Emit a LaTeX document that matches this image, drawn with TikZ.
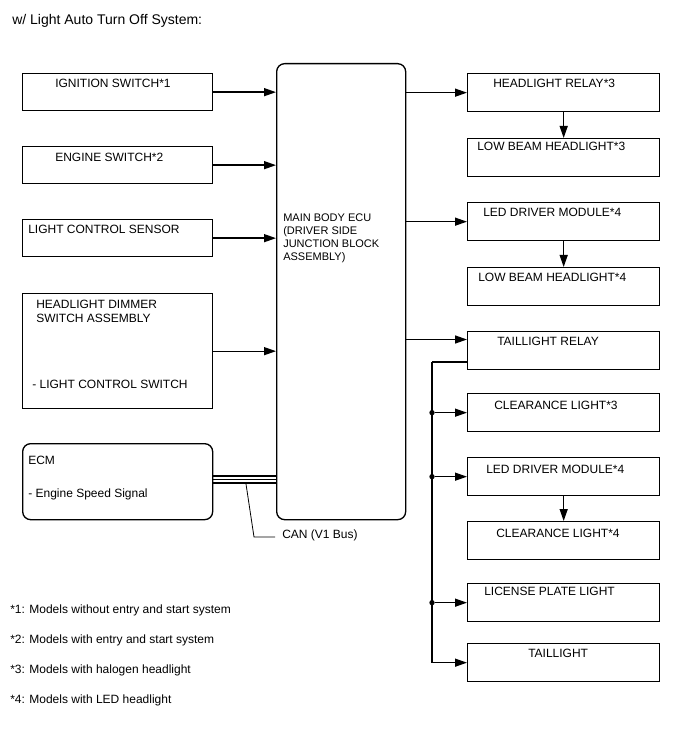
\documentclass[tikz,border=0pt]{standalone}
\usepackage{fontspec}
\setmainfont{Liberation Sans}
\usetikzlibrary{arrows.meta,calc}
\begin{document}
\begin{tikzpicture}[x=0.75pt,y=-0.75pt,
  box/.style={draw,line width=1pt,rectangle,anchor=north west,inner sep=0pt},
  lbox/.style={box,minimum width=190*0.75pt,minimum height=37*0.75pt},
  rbox/.style={box,minimum width=192*0.75pt,minimum height=38*0.75pt},
  txt/.style={anchor=base west,inner sep=0pt,font=\fontsize{9pt}{11pt}\selectfont},
  etxt/.style={anchor=base west,inner sep=0pt,font=\fontsize{8.25pt}{10pt}\selectfont},
  arr/.style={line width=1pt,-{Triangle[length=9pt,width=6pt]}},
  ln/.style={line width=1pt},
  dotnode/.style={circle,fill,inner sep=0pt,minimum size=4pt}]
\useasboundingbox (0,0) rectangle (688,755);

% title
\node[anchor=base west,inner sep=0pt,font=\fontsize{10.5pt}{12pt}\selectfont] (title) at (12,25) {w/ Light Auto Turn Off System:};

% left boxes
\node[lbox] (ign) at (22,73) {};
\node[lbox] (eng) at (22,146) {};
\node[lbox] (lcs) at (22,219) {};
\node[lbox,minimum height=115*0.75pt] (hds) at (22,293) {};
\node[lbox,minimum height=76*0.75pt,rounded corners=6pt] (ecm) at (22,443) {};

\node[txt] (tign) at (55,87.5) {IGNITION SWITCH*1};
\node[txt] (teng) at (55,161.5) {ENGINE SWITCH*2};
\node[txt] (tlcs) at (28,233.5) {LIGHT CONTROL SENSOR};
\node[txt] (thds1) at (36,308.5) {HEADLIGHT DIMMER};
\node[txt] (thds2) at (36,322.5) {SWITCH ASSEMBLY};
\node[txt] (thds3) at (32,388.5) {- LIGHT CONTROL SWITCH};
\node[txt] (tecm1) at (28,464) {ECM};
\node[txt] (tecm2) at (28,497.5) {- Engine Speed Signal};

% ECU
\node[box,minimum width=129*0.75pt,minimum height=456*0.75pt,rounded corners=6pt] (ecu) at (276,63) {};
\node[etxt] (tecu1) at (283,221.5) {MAIN BODY ECU};
\node[etxt] (tecu2) at (283,234.5) {(DRIVER SIDE};
\node[etxt] (tecu3) at (283,247.5) {JUNCTION BLOCK};
\node[etxt] (tecu4) at (283,260.5) {ASSEMBLY)};

% right boxes
\node[rbox] (hr) at (467,73) {};
\node[rbox] (lb3) at (467,138) {};
\node[rbox] (ld1) at (467,202) {};
\node[rbox] (lb4) at (467,267) {};
\node[rbox] (tr) at (467,331) {};
\node[rbox] (cl3) at (467,393) {};
\node[rbox] (ld2) at (467,457) {};
\node[rbox] (cl4) at (467,521) {};
\node[rbox] (lp) at (467,583) {};
\node[rbox] (tl) at (467,643) {};

\node[txt] (thr) at (493,87.5) {HEADLIGHT RELAY*3};
\node[txt] (tlb3) at (477,150.5) {LOW BEAM HEADLIGHT*3};
\node[txt] (tld1) at (483,217) {LED DRIVER MODULE*4};
\node[txt] (tlb4) at (478,281) {LOW BEAM HEADLIGHT*4};
\node[txt] (ttr) at (497,345.5) {TAILLIGHT RELAY};
\node[txt] (tcl3) at (494,409.5) {CLEARANCE LIGHT*3};
\node[txt] (tld2) at (486,473) {LED DRIVER MODULE*4};
\node[txt] (tcl4) at (496,537) {CLEARANCE LIGHT*4};
\node[txt] (tlp) at (484,595.5) {LICENSE PLATE LIGHT};
\node[txt] (ttl) at (528,657.5) {TAILLIGHT};

% left arrows
\draw[arr] (ign.east) -- (ign.east -| ecu.west);
\draw[arr] (eng.east) -- (eng.east -| ecu.west);
\draw[arr] (lcs.east) -- (lcs.east -| ecu.west);
\draw[arr] (hds.east) -- (hds.east -| ecu.west);

% CAN
\draw[line width=1.5pt] (ecm.east |- 0,476) -- (ecu.west |- 0,476);
\draw[line width=1pt] (ecm.east |- 0,479.5) -- (ecu.west |- 0,479.5);
\draw[line width=1.5pt] (ecm.east |- 0,483) -- (ecu.west |- 0,483);
\coordinate (canA) at (246,484);
\coordinate (canB) at (254,537);
\coordinate (canC) at (275,537);
\draw[line width=0.6pt] (canA) -- (canB) -- (canC);
\node[txt] (tcan) at (282,538.5) {CAN (V1 Bus)};

% right arrows
\draw[arr] (ecu.east |- hr.west) -- (hr.west);
\draw[arr] (ecu.east |- ld1.west) -- (ld1.west);
\draw[arr] (ecu.east |- 0,339.5) -- (tr.west |- 0,339.5);
\draw[arr] (hr.south) -- (lb3.north);
\draw[arr] (ld1.south) -- (lb4.north);
\draw[arr] (ld2.south) -- (cl4.north);

% taillight relay bus
\coordinate (bt) at (432,362);
\draw[ln] (tr.west |- bt) -- (bt);
\draw[arr] (bt) |- (tl.west);
\node[dotnode] (d1) at (bt |- cl3.west) {};
\node[dotnode] (d2) at (bt |- ld2.west) {};
\node[dotnode] (d3) at (bt |- lp.west) {};
\draw[arr] (d1) -- (cl3.west);
\draw[arr] (d2) -- (ld2.west);
\draw[arr] (d3) -- (lp.west);

% footnotes
\node[txt] (f1) at (10,613.5) {*1: Models without entry and start system};
\node[txt] (f2) at (10,643.5) {*2: Models with entry and start system};
\node[txt] (f3) at (10,673.5) {*3: Models with halogen headlight};
\node[txt] (f4) at (10,703.5) {*4: Models with LED headlight};
\end{tikzpicture}
\end{document}
